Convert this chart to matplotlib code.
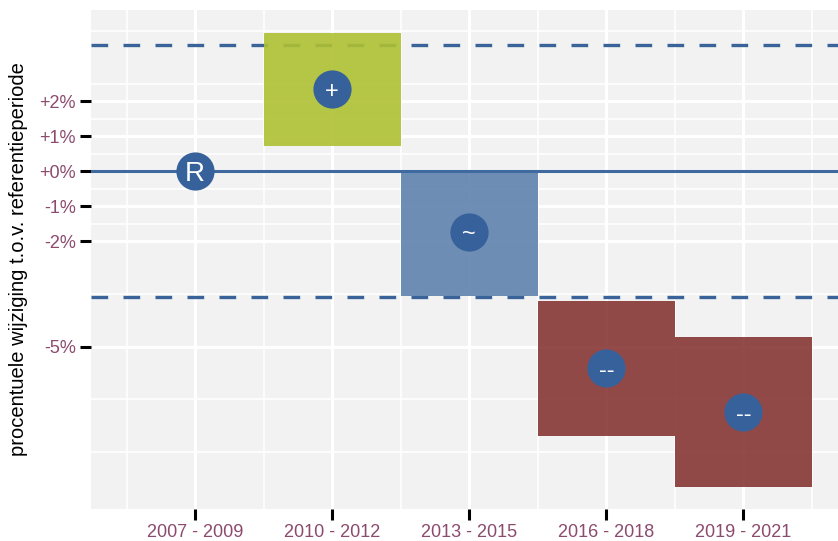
import matplotlib
matplotlib.use("Agg")
import matplotlib.pyplot as plt
from matplotlib.patches import Rectangle

# data
periods = ['2007 - 2009', '2010 - 2012', '2013 - 2015', '2016 - 2018', '2019 - 2021']
estimate = [0.0, 2.35, -1.73, -5.62, -6.88]
lower = [None, 0.74, -3.55, -7.55, -9.02]
upper = [None, 3.96, 0.0, -3.70, -4.73]
symbols = ['R', '+', '~', '--', '--']
bar_colors = [None, '#AFC033', '#5F82AE', '#873735', '#873735']

y_breaks = [2, 1, 0, -1, -2, -5]
y_labels = ['+2%', '+1%', '+0%', '-1%', '-2%', '-5%']
y_minor = [4, 2.5, 1.5, 0.5, -0.5, -1.5, -3.5, -6.5, -8]
threshold = 3.6

bg = '#F2F2F2'
lab_col = '#8B4A6E'
pt_col = '#36619B'

plt.rcParams['font.family'] = ['Liberation Sans', 'DejaVu Sans']

fig = plt.figure(figsize=(8.38, 5.41), dpi=100)
ax = fig.add_axes([91 / 838, 32 / 541, 1 - 91 / 838, 499 / 541])
ax.set_facecolor(bg)
ax.set_xlim(0.24, 5.69)
ax.set_ylim(-9.64, 4.61)

xs = list(range(1, len(periods) + 1))

# grid
for v in y_minor:
    ax.axhline(v, color='white', lw=1.2, zorder=0)
for v in y_breaks:
    ax.axhline(v, color='white', lw=2.2, zorder=0)
for v in [x - 0.5 for x in xs] + [xs[-1] + 0.5]:
    ax.axvline(v, color='white', lw=1.2, zorder=0)
for v in xs:
    ax.axvline(v, color='white', lw=2.2, zorder=0)

# threshold lines
ax.axhline(threshold, color='#3A6399', lw=2.4, ls=(0, (5, 4.6)), zorder=1)
ax.axhline(-threshold, color='#3A6399', lw=2.4, ls=(0, (5, 4.6)), zorder=1)

# interval boxes
for x, lo, hi, c in zip(xs, lower, upper, bar_colors):
    if lo is None:
        continue
    ax.add_patch(Rectangle((x - 0.5, lo), 1.0, hi - lo, facecolor=c, edgecolor='none',
                           alpha=0.9, zorder=2))

# reference line
ax.axhline(0, color='#3E6A9F', lw=2.2, zorder=3)

# points with symbols
ax.scatter(xs, estimate, s=27.5 ** 2, color=pt_col, zorder=4, linewidths=0)
for x, y, s in zip(xs, estimate, symbols):
    fs = 20 if s == 'R' else 17
    ax.text(x, y, s, color='white', fontsize=fs, ha='center', va='center_baseline', zorder=5)

for sp in ax.spines.values():
    sp.set_visible(False)

ax.set_xticks(xs)
ax.set_xticklabels(periods)
ax.set_yticks(y_breaks)
ax.set_yticklabels(y_labels)
ax.tick_params(axis='both', length=8, width=2.2, color='black', labelcolor=lab_col,
               labelsize=13, pad=3)
fig.text(19 / 838, 1 - 259 / 541, 'procentuele wijziging t.o.v. referentieperiode',
         fontsize=14.5, color='black', rotation=90, ha='center', va='center')

fig.savefig('out.png', dpi=100, facecolor='white')
